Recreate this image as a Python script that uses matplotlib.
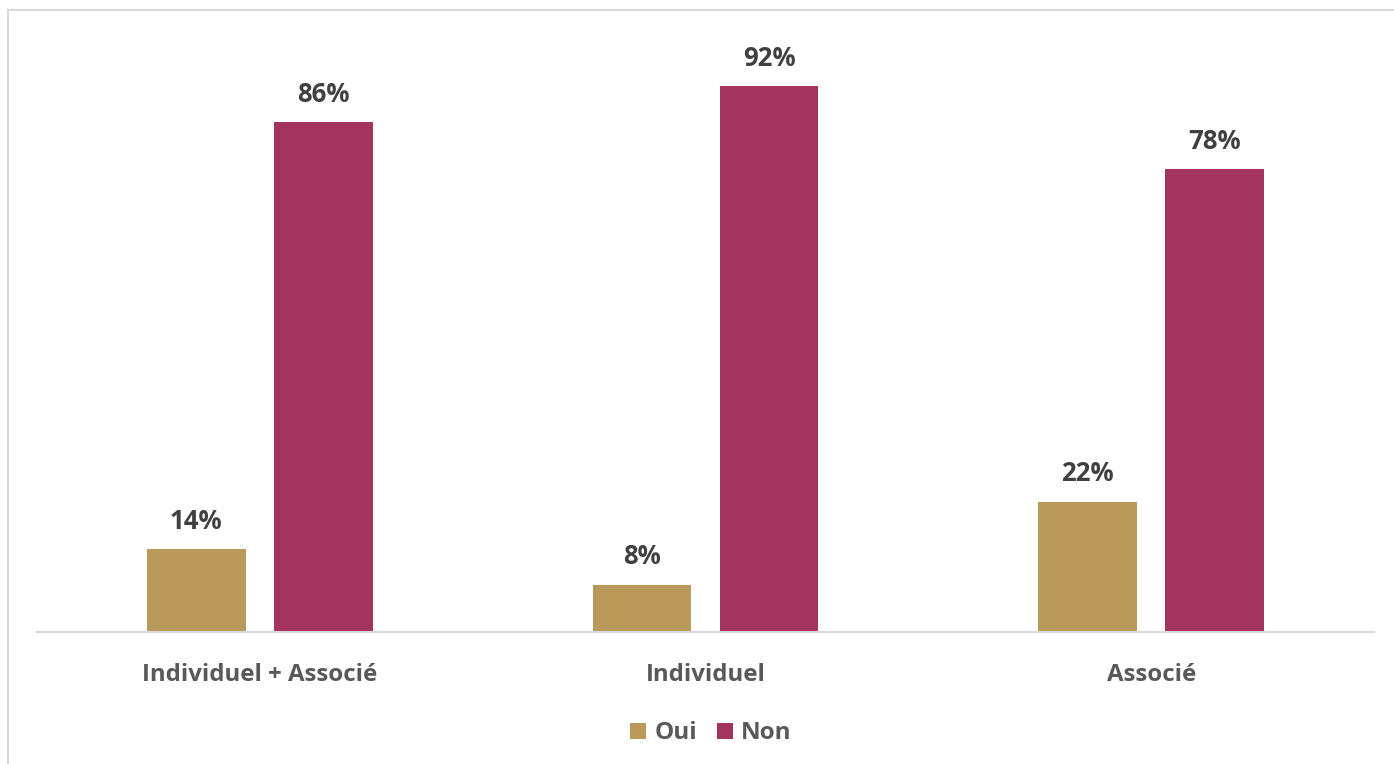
import matplotlib
matplotlib.use("Agg")
import matplotlib.pyplot as plt
from matplotlib.lines import Line2D
import numpy as np

categories = ["Individuel + Associé", "Individuel", "Associé"]
oui = [14, 8, 22]
non = [86, 92, 78]
series_names = ["Oui", "Non"]

plt.rcParams["font.family"] = ["Open Sans", "DejaVu Sans"]

col_oui = "#B99A5B"
col_non = "#A3345E"

fig = plt.figure(figsize=(13.94, 7.64), dpi=100)
ax = fig.add_axes([0.02654, 0.17277, 0.9591, 0.77618])

x = np.arange(len(categories))
w = 0.222
off = 0.1425
b1 = ax.bar(x - off, oui, w, color=col_oui, label=series_names[0])
b2 = ax.bar(x + off, non, w, color=col_non, label=series_names[1])

for bars in (b1, b2):
    for r in bars:
        ax.text(r.get_x() + r.get_width() / 2, r.get_height() + 3.4,
                f"{r.get_height():.0f}%", ha="center", va="baseline",
                fontsize=18.5, fontweight="bold", color="#404040")

ax.set_xlim(-0.5, 2.5)
ax.set_ylim(0, 100)
ax.set_xticks(x)
ax.set_xticklabels(categories, fontsize=17.3, fontweight="bold", color="#595959")
ax.tick_params(axis="x", length=0, pad=22)
ax.set_yticks([])
for s in ("top", "right", "left"):
    ax.spines[s].set_visible(False)
ax.spines["bottom"].set_color("#D9D9D9")
ax.spines["bottom"].set_linewidth(1.5)

leg = fig.legend(handles=[b1, b2], loc="center", bbox_to_anchor=(0.510, 0.040),
                 ncol=2, frameon=False, handlelength=0.66, handleheight=0.66,
                 handletextpad=0.35, columnspacing=0.8,
                 prop={"size": 17.5, "weight": "bold"})
for t in leg.get_texts():
    t.set_color("#595959")

# light frame on left and top edges
fig.add_artist(Line2D([8 / 1394, 8 / 1394], [0, 1 - 10 / 764], transform=fig.transFigure,
                      color="#D9D9D9", lw=1.5))
fig.add_artist(Line2D([8 / 1394, 1], [1 - 10 / 764, 1 - 10 / 764], transform=fig.transFigure,
                      color="#D9D9D9", lw=1.5))

fig.savefig("out.png", dpi=100)
